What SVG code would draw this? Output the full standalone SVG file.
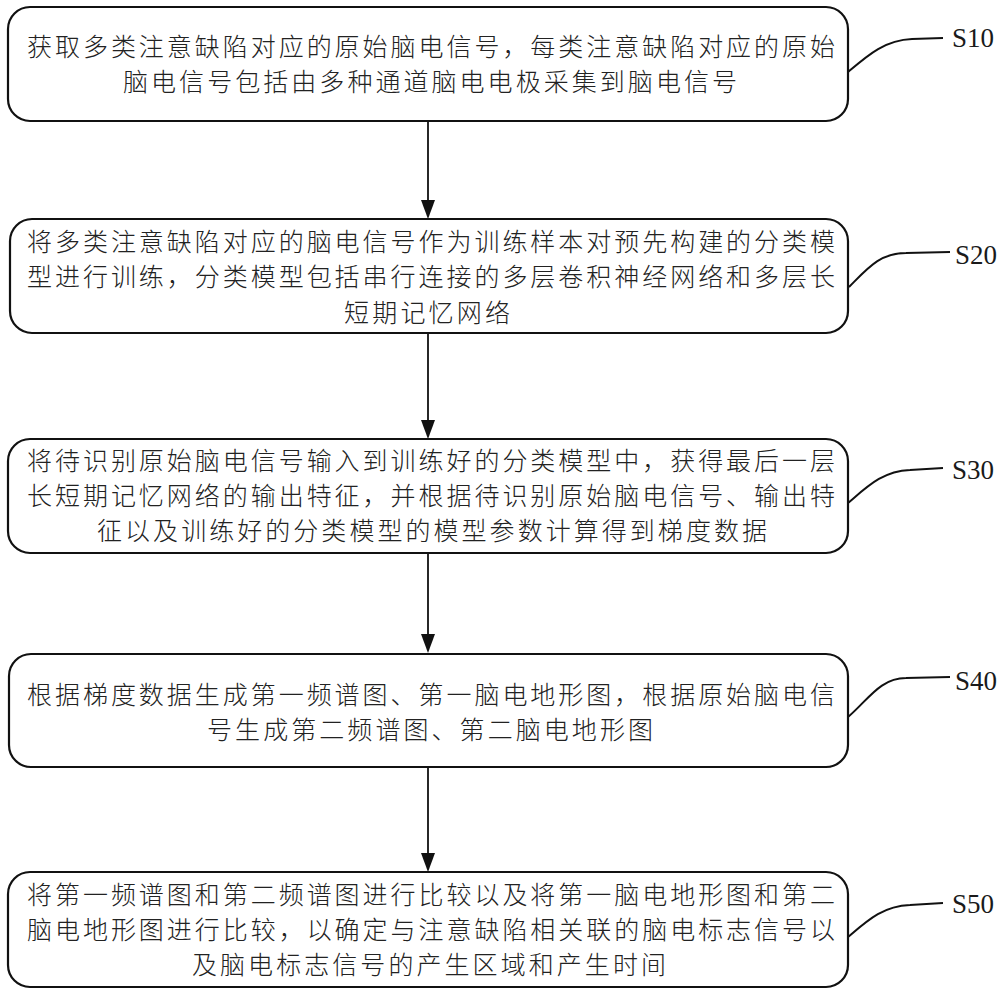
<svg xmlns="http://www.w3.org/2000/svg" width="1000" height="994" viewBox="0 0 1000 994">
<style>
.box{fill:#fff;stroke:#111;stroke-width:2.2}
.t{font-family:"Noto Sans CJK SC","Noto Sans",sans-serif;font-size:25px;font-weight:300;fill:#222}
.lbl{font-family:"Liberation Serif",serif;font-size:27px;fill:#1a1a1a}
.lead{fill:none;stroke:#111;stroke-width:2}
.ln{stroke:#111;stroke-width:1.8;fill:none}
.head{fill:#111}
</style>
<rect width="1000" height="994" fill="#fff"/>
<g id="connectors">
<path class="ln" d="M428,121 L428,201"/>
<path class="head" d="M421,200 L435,200 L428,219 Z"/>
<path class="ln" d="M428,333 L428,421"/>
<path class="head" d="M421,420 L435,420 L428,439 Z"/>
<path class="ln" d="M428,553 L428,635"/>
<path class="head" d="M421,634 L435,634 L428,653 Z"/>
<path class="ln" d="M428,767 L428,854"/>
<path class="head" d="M421,853 L435,853 L428,872 Z"/>
<path class="lead" d="M848,72 C868,55 885,40 912,39 L943,38"/>
<path class="lead" d="M849,287 C868,268 880,253 906,253 L950,252"/>
<path class="lead" d="M848,503 C868,486 883,471 910,470 L943,468"/>
<path class="lead" d="M848,717 C868,700 880,678 906,678 L950,677"/>
<path class="lead" d="M848,937 C868,920 883,906 910,905 L943,903"/>
</g>
<g id="S10">
<rect class="box" x="8" y="7" width="840" height="114" rx="22"/>
<text class="t" x="27" y="56" textLength="808" lengthAdjust="spacing">获取多类注意缺陷对应的原始脑电信号，每类注意缺陷对应的原始</text>
<text class="t" x="123" y="91" textLength="614" lengthAdjust="spacing">脑电信号包括由多种通道脑电电极采集到脑电信号</text>
<text class="lbl" x="952" y="47">S10</text>
</g>
<g id="S20">
<rect class="box" x="10" y="219" width="838" height="114" rx="22"/>
<text class="t" x="27" y="251" textLength="808" lengthAdjust="spacing">将多类注意缺陷对应的脑电信号作为训练样本对预先构建的分类模</text>
<text class="t" x="27" y="286" textLength="808" lengthAdjust="spacing">型进行训练，分类模型包括串行连接的多层卷积神经网络和多层长</text>
<text class="t" x="344" y="322" textLength="166" lengthAdjust="spacing">短期记忆网络</text>
<text class="lbl" x="955" y="264">S20</text>
</g>
<g id="S30">
<rect class="box" x="8" y="439" width="840" height="114" rx="22"/>
<text class="t" x="27" y="470" textLength="808" lengthAdjust="spacing">将待识别原始脑电信号输入到训练好的分类模型中，获得最后一层</text>
<text class="t" x="27" y="505" textLength="808" lengthAdjust="spacing">长短期记忆网络的输出特征，并根据待识别原始脑电信号、输出特</text>
<text class="t" x="97" y="540" textLength="670" lengthAdjust="spacing">征以及训练好的分类模型的模型参数计算得到梯度数据</text>
<text class="lbl" x="952" y="479">S30</text>
</g>
<g id="S40">
<rect class="box" x="9" y="654" width="839" height="113" rx="22"/>
<text class="t" x="27" y="704" textLength="808" lengthAdjust="spacing">根据梯度数据生成第一频谱图、第一脑电地形图，根据原始脑电信</text>
<text class="t" x="207" y="739" textLength="446" lengthAdjust="spacing">号生成第二频谱图、第二脑电地形图</text>
<text class="lbl" x="955" y="690">S40</text>
</g>
<g id="S50">
<rect class="box" x="8" y="872" width="840" height="115" rx="22"/>
<text class="t" x="27" y="904" textLength="808" lengthAdjust="spacing">将第一频谱图和第二频谱图进行比较以及将第一脑电地形图和第二</text>
<text class="t" x="27" y="939" textLength="808" lengthAdjust="spacing">脑电地形图进行比较，以确定与注意缺陷相关联的脑电标志信号以</text>
<text class="t" x="192" y="974" textLength="474" lengthAdjust="spacing">及脑电标志信号的产生区域和产生时间</text>
<text class="lbl" x="952" y="913">S50</text>
</g>
</svg>
